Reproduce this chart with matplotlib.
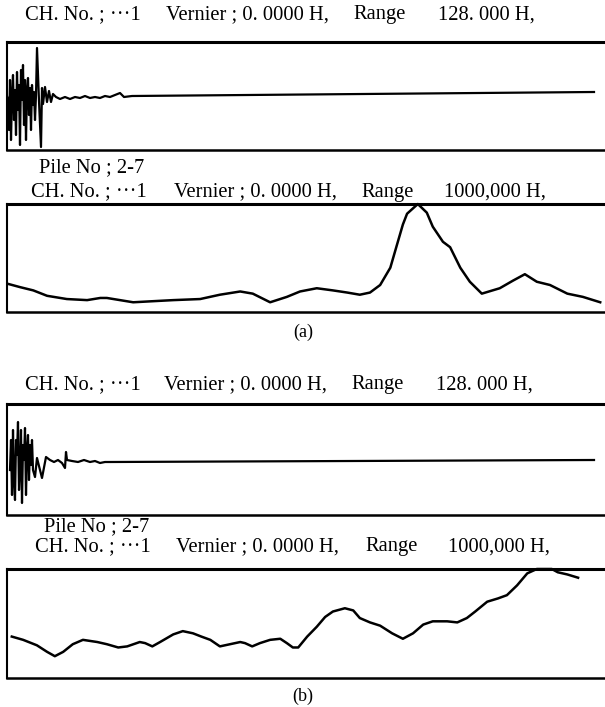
import numpy as np
import matplotlib
matplotlib.use('Agg')
import matplotlib.pyplot as plt

# #/#/# Data #/#/#

# (a) time signal: time (px units from left edge), amplitude
sig_a_t = [0, 1, 2, 3, 4, 5, 6, 7, 8, 9, 10, 11, 12, 13, 14, 15, 16, 17, 18, 19, 20,
           21, 22, 23, 24, 25, 26, 27, 28, 29, 30, 32, 34, 35, 36, 38, 40, 42, 44, 46,
           49, 53, 58, 63, 68, 73, 78, 83, 88, 93, 98, 103, 108, 113, 117, 125, 587]
sig_a_v = [0, -4, -34, 16, -44, 1, 21, -24, 6, -39, 24, -14, 11, -49, 26, -4, 31, -29, 16, -44, 6,
           18, -19, 8, -34, 11, -9, 4, -24, 1, 48, -5, -51, 8, -8, 9, -6, 5, -6, 2,
           -1, -3, -1, -3, -1, -2, 0, -2, -1, -2, 0, -1, 1, 3, -1, 0, 4]

# (a) spectrum: frequency (Hz), amplitude (% of full scale)
spec_a_f = [2, 22, 44, 67, 100, 134, 156, 167, 189, 211, 244, 278, 323, 356, 390, 411,
            440, 468, 490, 518, 545, 569, 590, 607, 624, 641, 652, 662, 669, 687, 702,
            712, 729, 741, 758, 774, 794, 824, 846, 866, 886, 908, 937, 963, 992]
spec_a_v = [26, 23, 20, 15, 12, 11, 13, 13, 11, 9, 10, 11, 12, 16, 19, 17,
            9, 14, 19, 22, 20, 18, 16, 18, 25, 41, 62, 81, 91, 100, 92,
            79, 65, 60, 41, 28, 17, 22, 29, 35, 28, 25, 17, 14, 9]

# (b) time signal
sig_b_t = [3, 4, 5, 6, 7, 8, 9, 10, 11, 12, 13, 14, 15, 16, 17, 18, 19, 20, 21, 22, 23,
           24, 25, 26, 28, 30, 35, 39, 43, 47, 51, 55, 58, 59, 60, 65, 71, 77, 83, 88,
           93, 98, 103, 587]
sig_b_v = [-9, 21, -34, 31, -19, -39, 21, 6, 39, -29, -9, 31, -42, 16, 1, 33, -34, 11, 26, -19, 16,
           -4, 21, -9, -16, 3, -17, 4, 1, -1, 1, -2, -7, 9, 1, 0, -1, 1, -1, 0,
           -2, -1, -1, 1]

# (b) spectrum
spec_b_f = [8, 27, 50, 67, 80, 94, 110, 127, 151, 167, 186, 201, 222, 231, 243, 256,
            278, 294, 311, 325, 340, 356, 373, 390, 398, 410, 423, 440, 457, 468, 478,
            487, 502, 518, 532, 545, 565, 579, 590, 607, 624, 644, 662, 679, 696, 712,
            736, 753, 769, 783, 803, 821, 836, 853, 870, 886, 911, 921, 937, 955]
spec_b_v = [38, 35, 30, 24, 20, 24, 31, 35, 33, 31, 28, 29, 33, 32, 29, 33,
            40, 43, 41, 38, 35, 29, 31, 33, 32, 29, 32, 35, 36, 32, 28,
            28, 38, 47, 56, 61, 64, 62, 55, 51, 48, 41, 36, 41, 49, 52,
            52, 51, 55, 61, 70, 73, 76, 85, 96, 100, 100, 97, 95, 92]

title_ch = 'CH. No. ; \u00b7\u00b7\u00b71'
title_vernier = 'Vernier ; 0. 0000 H,'
title_range = 'Range'
range_time = '128. 000 H,'
range_freq = '1000,000 H,'
pile_label = 'Pile No ; 2-7'

# #/#/# Figure #/#/#

W, H = 605, 707
fig = plt.figure(figsize=(W / 100, H / 100), dpi=100)
plt.rcParams['font.family'] = ['Liberation Serif', 'DejaVu Serif']
FS = 14.8


def px_axes(left, top, right, bottom):
    '''make an axes from pixel edges (top-left origin)'''
    ax = fig.add_axes([left / W, 1 - bottom / H, (right - left) / W, (bottom - top) / H])
    ax.set_xticks([])
    ax.set_yticks([])
    ax.spines['right'].set_visible(False)
    ax.spines['top'].set_linewidth(2.2)
    ax.spines['bottom'].set_linewidth(1.8)
    ax.spines['left'].set_linewidth(1.5)
    ax.patch.set_alpha(0)
    return ax


def px_text(x, y, s, **kw):
    fig.text(x / W, 1 - y / H, s, fontsize=FS, va='center', ha='left', **kw)


def title_row(y, xs, rng):
    px_text(xs[0], y, title_ch)
    px_text(xs[1], y, title_vernier)
    px_text(xs[2], y, title_range)
    px_text(xs[3], y, rng)


# panel (a) time signal
ax1 = px_axes(7, 42, 605, 150)
ax1.plot(sig_a_t, sig_a_v, color='black', lw=1.6)
ax1.set_xlim(0, 598)
ax1.set_ylim(-54, 54)
title_row(15, [25, 166, 353, 438], range_time)

# panel (a) spectrum
ax2 = px_axes(7, 204, 605, 312)
ax2.plot(spec_a_f, spec_a_v, color='black', lw=1.8, clip_on=False)
ax2.set_xlim(0, 1000)
ax2.set_ylim(0, 100)
px_text(39, 168, pile_label)
title_row(192, [31, 174, 361, 444], range_freq)
fig.text(303 / W, 1 - 332 / H, '(a)', fontsize=13, ha='center', va='center')

# panel (b) time signal
ax3 = px_axes(7, 404, 605, 515)
ax3.plot(sig_b_t, sig_b_v, color='black', lw=1.6)
ax3.set_xlim(0, 598)
ax3.set_ylim(-54, 57)
title_row(385, [25, 164, 351, 436], range_time)

# panel (b) spectrum
ax4 = px_axes(7, 569, 605, 678)
ax4.plot(spec_b_f, spec_b_v, color='black', lw=1.8, clip_on=False)
ax4.set_xlim(0, 1000)
ax4.set_ylim(0, 100)
px_text(44, 527, pile_label)
title_row(547, [35, 176, 365, 448], range_freq)
fig.text(303 / W, 1 - 696 / H, '(b)', fontsize=13, ha='center', va='center')

fig.savefig('out.png', dpi=100)
